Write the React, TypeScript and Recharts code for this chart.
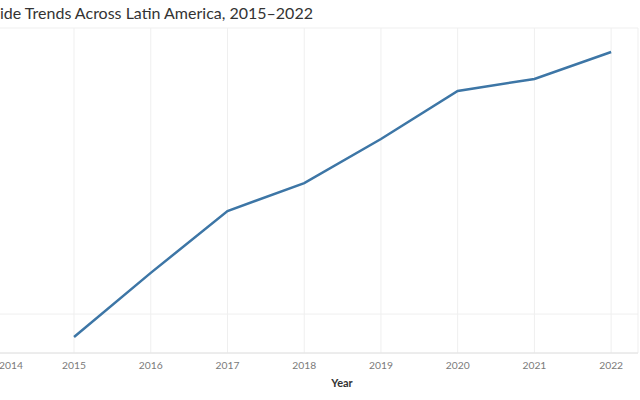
import { LineChart, Line, XAxis, YAxis, CartesianGrid } from "recharts";

const years = [2015, 2016, 2017, 2018, 2019, 2020, 2021, 2022];
const rates = [19.6, 20.72, 21.8, 22.29, 23.06, 23.9, 24.11, 24.58];
const yearTicks = [2014, 2015, 2016, 2017, 2018, 2019, 2020, 2021, 2022];
const rateTicks = [20, 25];

const data = years.map((year, i) => ({ year, rate: rates[i] }));

// the chart canvas is shifted left so the value axis sits outside the frame
const SHIFT = 60;

function YearTick(props: any) {
  const { x, y, payload } = props;
  // keep the first label inside the frame
  const cx = Math.max(x, SHIFT + 11);
  return (
    <text x={cx} y={y + 4} textAnchor="middle" dominantBaseline="central" fontSize={10.3} fill="#7a7a7a">
      {payload.value}
    </text>
  );
}

export default function App() {
  return (
    <div
      style={{
        position: "absolute",
        left: 0,
        top: 0,
        width: 640,
        height: 400,
        overflow: "hidden",
        background: "#fff",
        fontFamily: "Lato, sans-serif",
      }}
    >
      <svg width={640} height={28} style={{ position: "absolute", left: 0, top: 0 }}>
        <text x={0} y={19} fontSize={16} fill="#333" fontFamily="Lato, sans-serif">
          ide Trends Across Latin America, 2015–2022
        </text>
      </svg>
      <div style={{ position: "absolute", left: -SHIFT, top: 0 }}>
        <LineChart width={700} height={400} data={data} margin={{ top: 28, right: 2, left: 57.3, bottom: 0 }}>
          <CartesianGrid stroke="#efefef" />
          <XAxis
            dataKey="year"
            type="number"
            domain={[2014, 2022.35]}
            ticks={yearTicks}
            interval={0}
            allowDataOverflow
            height={47}
            tickLine={false}
            axisLine={{ stroke: "#e2e2e2" }}
            tick={<YearTick />}
            label={{
              content: () => (
                <text x={SHIFT + 342} y={382} textAnchor="middle" dominantBaseline="central" fontSize={11} fontWeight={700} fill="#333">
                  Year
                </text>
              ),
            }}
          />
          <YAxis hide domain={[19.32, 25]} ticks={rateTicks} allowDataOverflow />
          <Line type="linear" dataKey="rate" stroke="#3d76a6" strokeWidth={2.5} dot={false} isAnimationActive={false} />
        </LineChart>
      </div>
    </div>
  );
}
